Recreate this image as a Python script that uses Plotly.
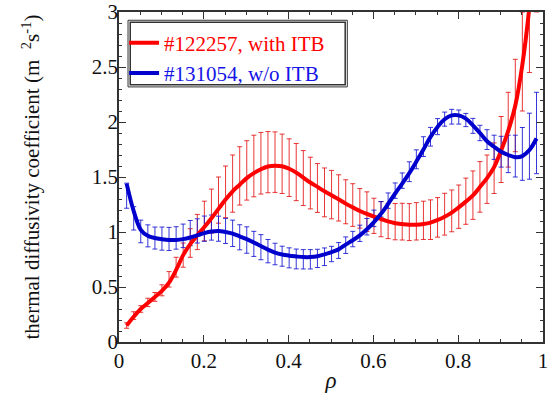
import plotly.graph_objects as go

# normalized radius grid (data points)
rho = [0.018, 0.0347, 0.0513, 0.068, 0.0847, 0.1013, 0.118, 0.1347, 0.1513, 0.168,
       0.1847, 0.2013, 0.218, 0.2347, 0.2513, 0.268, 0.2847, 0.3013, 0.318, 0.3347,
       0.3513, 0.368, 0.3847, 0.4013, 0.418, 0.4347, 0.4513, 0.468, 0.4847, 0.5013,
       0.518, 0.5347, 0.5513, 0.568, 0.5847, 0.6013, 0.618, 0.6347, 0.6513, 0.668,
       0.6847, 0.7013, 0.718, 0.7347, 0.7513, 0.768, 0.7847, 0.8013, 0.818, 0.8347,
       0.8513, 0.868, 0.8847, 0.9013, 0.918, 0.9347, 0.9513, 0.968, 0.9847]

# #122257 with ITB : fitted curve, measured mean, error
red_fit = [0.15, 0.23, 0.30, 0.355, 0.41, 0.465, 0.54, 0.655, 0.79, 0.89,
           0.97, 1.045, 1.125, 1.21, 1.295, 1.37, 1.43, 1.49, 1.535, 1.57,
           1.595, 1.603, 1.597, 1.575, 1.54, 1.495, 1.45, 1.41, 1.37, 1.335,
           1.297, 1.258, 1.224, 1.191, 1.164, 1.139, 1.118, 1.096, 1.08, 1.072,
           1.066, 1.067, 1.073, 1.085, 1.109, 1.139, 1.176, 1.224, 1.276, 1.332,
           1.41, 1.49, 1.59, 1.74, 1.92, 2.15, 2.52, 3.05, 3.8]
red_mean = [0.15, 0.24, 0.30, 0.36, 0.41, 0.47, 0.57, 0.68, 0.79, 0.90,
            1.0, 1.1, 1.19, 1.29, 1.365, 1.44, 1.51, 1.56, 1.60, 1.625,
            1.635, 1.635, 1.62, 1.585, 1.545, 1.49, 1.445, 1.40, 1.36, 1.34,
            1.31, 1.275, 1.245, 1.215, 1.185, 1.147, 1.117, 1.10, 1.094, 1.094,
            1.09, 1.097, 1.106, 1.112, 1.133, 1.162, 1.192, 1.23, 1.28, 1.335,
            1.41, 1.48, 1.58, 1.75, 1.93, 2.15, 2.55, 3.05, 3.9]
red_err = [0.025, 0.035, 0.03, 0.038, 0.04, 0.05, 0.07, 0.09, 0.11, 0.13,
           0.16, 0.18, 0.20, 0.21, 0.235, 0.26, 0.265, 0.27, 0.28, 0.28,
           0.278, 0.275, 0.27, 0.262, 0.26, 0.25, 0.235, 0.222, 0.222, 0.22,
           0.21, 0.20, 0.194, 0.18, 0.18, 0.16, 0.16, 0.16, 0.165, 0.167,
           0.168, 0.17, 0.174, 0.18, 0.18, 0.19, 0.19, 0.197, 0.21, 0.22,
           0.23, 0.22, 0.23, 0.30, 0.34, 0.42, 0.45, 0.60, 0.90]

# #131054 w/o ITB
blue_fit = [1.44, 1.19, 1.02, 0.965, 0.945, 0.935, 0.928, 0.927, 0.935, 0.95,
            0.97, 0.99, 1.005, 1.01, 1.0, 0.985, 0.96, 0.935, 0.905, 0.872,
            0.84, 0.812, 0.795, 0.785, 0.778, 0.772, 0.772, 0.78, 0.797, 0.817,
            0.842, 0.885, 0.925, 0.97, 1.025, 1.09, 1.165, 1.255, 1.35, 1.44,
            1.535, 1.64, 1.75, 1.865, 1.955, 2.025, 2.06, 2.06, 2.03, 1.97,
            1.90, 1.825, 1.775, 1.73, 1.70, 1.68, 1.69, 1.745, 1.85]
blue_mean = [1.33, 1.124, 1.005, 0.965, 0.945, 0.94, 0.937, 0.946, 0.965, 0.99,
             1.01, 1.03, 1.04, 1.03, 1.01, 0.988, 0.952, 0.927, 0.892, 0.862,
             0.826, 0.80, 0.78, 0.765, 0.755, 0.752, 0.752, 0.76, 0.775, 0.80,
             0.832, 0.88, 0.936, 0.988, 1.048, 1.124, 1.206, 1.285, 1.376, 1.467,
             1.548, 1.661, 1.776, 1.866, 1.958, 2.026, 2.048, 2.045, 2.018, 1.965,
             1.90, 1.84, 1.77, 1.73, 1.71, 1.69, 1.71, 1.78, 1.90]
blue_err = [0.114, 0.106, 0.103, 0.10, 0.10, 0.105, 0.105, 0.102, 0.107, 0.115,
            0.11, 0.115, 0.114, 0.114, 0.114, 0.12, 0.114, 0.12, 0.114, 0.114,
            0.106, 0.098, 0.091, 0.091, 0.09, 0.088, 0.088, 0.083, 0.08, 0.07,
            0.072, 0.075, 0.07, 0.074, 0.075, 0.075, 0.07, 0.07, 0.07, 0.07,
            0.09, 0.086, 0.09, 0.085, 0.073, 0.064, 0.067, 0.064, 0.06, 0.068,
            0.07, 0.09, 0.11, 0.14, 0.17, 0.19, 0.24, 0.30, 0.37]

names = ["#122257, with ITB", "#131054, w/o ITB"]

RED = "#ff0000"
BLUE = "#0000cc"
FONT = "Liberation Serif"

fig = go.Figure()

# error bars
fig.add_trace(go.Scatter(
    x=rho, y=red_mean, mode="markers",
    marker=dict(size=1, color="rgba(0,0,0,0)"),
    error_y=dict(type="data", array=red_err, color="rgba(228,20,20,0.85)",
                 thickness=1, width=2.5),
    showlegend=False, hoverinfo="skip"))
fig.add_trace(go.Scatter(
    x=rho, y=blue_mean, mode="markers",
    marker=dict(size=1, color="rgba(0,0,0,0)"),
    error_y=dict(type="data", array=blue_err, color="rgba(20,20,210,0.85)",
                 thickness=1, width=2.5),
    showlegend=False, hoverinfo="skip"))

# fitted curves
fig.add_trace(go.Scatter(
    x=rho, y=red_fit, mode="lines", line=dict(color=RED, width=4, shape="spline"),
    name="<span style='color:#ff0000'>" + names[0] + "</span>"))
fig.add_trace(go.Scatter(
    x=rho, y=blue_fit, mode="lines", line=dict(color=BLUE, width=4, shape="spline"),
    name="<span style='color:#1515e6'>" + names[1] + "</span>"))

axis_common = dict(
    showline=True, linecolor="#333", linewidth=1.5, mirror="allticks",
    ticks="inside", ticklen=7, tickwidth=1, tickcolor="#333",
    showgrid=False, zeroline=False, automargin=False,
    tickfont=dict(family=FONT, size=21, color="#111"),
)

fig.update_xaxes(range=[0, 1], tick0=0, dtick=0.2, ticklabelstandoff=-1,
                 minor=dict(dtick=0.05, ticks="inside", ticklen=3.5, tickcolor="#333"),
                 title=dict(text="<i>ρ</i>", font=dict(family=FONT, size=23, color="#111"),
                            standoff=0),
                 **axis_common)
fig.update_yaxes(range=[0, 3], tick0=0, dtick=0.5, ticklabelstandoff=-5,
                 minor=dict(dtick=0.1, ticks="inside", ticklen=3.5, tickcolor="#333"),
                 title=dict(text="thermal diffusivity coefficient (m\u00a0\u00a0<sup>2</sup>s<sup>-1</sup>)",
                            font=dict(family=FONT, size=21, color="#111"), standoff=46),
                 **axis_common)

# double legend frame
fig.add_shape(type="rect", xref="paper", yref="paper",
              x0=0.0213, x1=0.5385, y0=0.773, y1=0.975,
              line=dict(color="#333", width=1))
fig.add_shape(type="rect", xref="paper", yref="paper",
              x0=0.0265, x1=0.5335, y0=0.7794, y1=0.9687,
              line=dict(color="#333", width=1.5))

fig.update_layout(
    width=553, height=408,
    margin=dict(l=119, r=10, t=12, b=66),
    plot_bgcolor="white", paper_bgcolor="white",
    font=dict(family=FONT, size=21, color="#111"),
    legend=dict(x=0.012, y=0.968, xanchor="left", yanchor="top",
                bgcolor="rgba(0,0,0,0)", borderwidth=0,
                font=dict(family=FONT, size=21)),
    showlegend=True,
)

fig.write_html("out.html", config={"displayModeBar": False},
               post_script="document.body.style.margin='0px';")
